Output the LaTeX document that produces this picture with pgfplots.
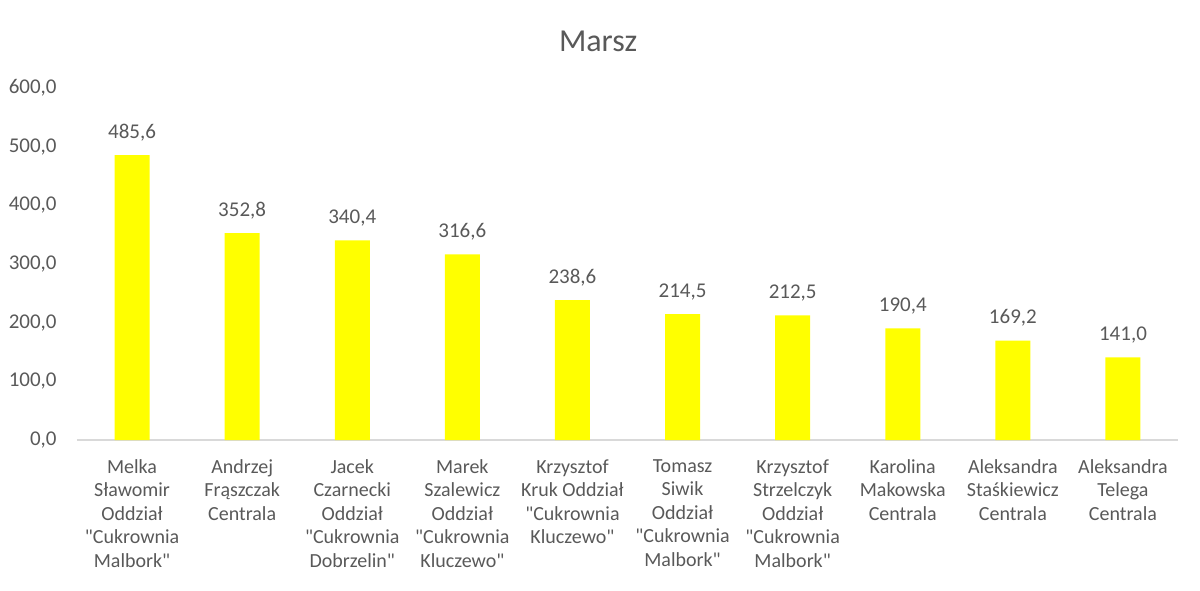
\documentclass[border=0pt]{standalone}
\usepackage{fontspec}
\setmainfont{Carlito}[Ligatures=TeXOff]
\usepackage{pgfplots}
\pgfplotsset{compat=1.18}
\definecolor{txt}{HTML}{595959}
\definecolor{axl}{HTML}{D9D9D9}
\definecolor{bar}{HTML}{FFFF00}
\begin{document}
\begin{tikzpicture}
\begin{axis}[
  at={(0,0)}, anchor=south west,
  scale only axis,
  width=550.5pt, height=176pt,
  xmin=-0.5, xmax=9.5,
  ymin=0, ymax=600,
  ytick={0,100,...,600},
  xtick={0,...,9},
  xticklabels={
    {Melka\\Sławomir\\Oddział\\"Cukrownia\\Malbork"},
    {Andrzej\\Frąszczak\\Centrala},
    {Jacek\\Czarnecki\\Oddział\\"Cukrownia\\Dobrzelin"},
    {Marek\\Szalewicz\\Oddział\\"Cukrownia\\Kluczewo"},
    {Krzysztof\\Kruk Oddział\\"Cukrownia\\Kluczewo"},
    {Tomasz\\Siwik\\Oddział\\"Cukrownia\\Malbork"},
    {Krzysztof\\Strzelczyk\\Oddział\\"Cukrownia\\Malbork"},
    {Karolina\\Makowska\\Centrala},
    {Aleksandra\\Staśkiewicz\\Centrala},
    {Aleksandra\\Telega\\Centrala}},
  major tick length=0pt,
  axis x line*=bottom, axis y line*=left,
  x axis line style={-, draw=axl, line width=0.8pt},
  y axis line style={draw=none},
  /pgf/number format/.cd, fixed, fixed zerofill, precision=1, use comma, 1000 sep={}, assume math mode=true,
  /pgfplots/.cd,
  yticklabel style={font=\fontsize{10.5}{12}\selectfont, text=txt, inner sep=0pt, anchor=east, xshift=-10pt},
  xticklabel style={font=\fontsize{10}{11.75}\selectfont, text=txt, inner sep=0pt, anchor=north, yshift=-9.5pt, align=center},
  title={Marsz},
  title style={font=\fontsize{16}{19}\selectfont, text=txt, at={(axis description cs:0.4733,1.071)}, anchor=base, inner sep=0pt},
  nodes near coords,
  nodes near coords style={font=\fontsize{10.5}{12}\selectfont, text=txt, anchor=base, inner sep=0pt, yshift=8.5pt},
  ybar, bar width=17.5pt,
]
\addplot[fill=bar, draw=none] coordinates {
  (0,485.6) (1,352.8) (2,340.4) (3,316.6) (4,238.6)
  (5,214.5) (6,212.5) (7,190.4) (8,169.2) (9,141.0)};
\end{axis}
\pgfresetboundingbox
\path[use as bounding box] (-38.5pt,-75pt) rectangle (561.5pt,220pt);
\end{tikzpicture}
\end{document}
